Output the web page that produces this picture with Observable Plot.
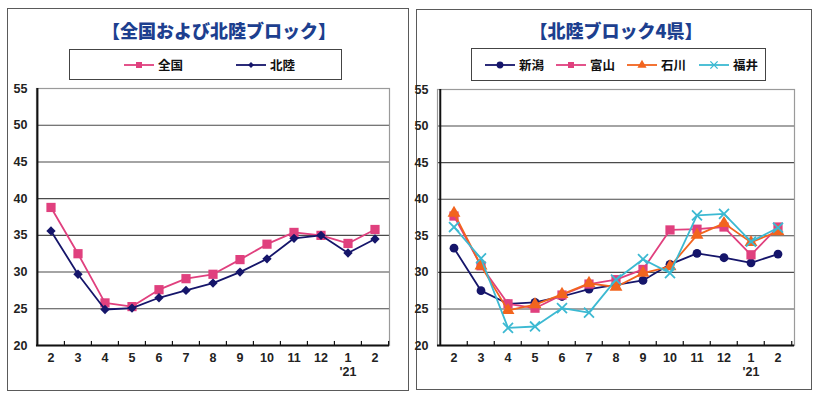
<!DOCTYPE html>
<html><head><meta charset="utf-8">
<script src="https://cdn.jsdelivr.net/npm/d3@7"></script>
<script src="https://cdn.jsdelivr.net/npm/@observablehq/plot@0.6"></script>
<style>
body{margin:0;background:#fff;}
#root{position:relative;width:820px;height:395px;overflow:hidden;background:#fff;}
.frame{position:absolute;border:1.5px solid #5a5a5a;box-sizing:border-box;}
.title{position:absolute;font-family:"Noto Sans CJK JP",sans-serif;font-weight:900;font-size:18px;color:#1d3f8f;white-space:nowrap;transform:translate(-50%,-50%);}
.legend{position:absolute;border:1.2px solid #444;box-sizing:border-box;background:#fff;}
.item{position:absolute;top:0;height:100%;display:flex;align-items:center;font-family:"Noto Sans CJK JP",sans-serif;font-weight:700;font-size:12.5px;color:#111;}
.plot{position:absolute;top:0;}
</style></head><body><div id="root"></div>
<script>
// ---- data ----
const periods = ["2020-02","2020-03","2020-04","2020-05","2020-06","2020-07","2020-08","2020-09","2020-10","2020-11","2020-12","2021-01","2021-02"];
const monthLabels = ["2","3","4","5","6","7","8","9","10","11","12","1","2"];
const yearLabel = "'21";
const yTicks = [20,25,30,35,40,45,50,55];
const titleLeft = "【全国および北陸ブロック】";
const titleRight = "【北陸ブロック4県】";
const zenkoku  = [38.8,32.5,25.8,25.3,27.6,29.1,29.7,31.7,33.8,35.4,35.0,33.9,35.8];
const hokuriku = [35.6,29.7,24.9,25.1,26.5,27.5,28.5,30.0,31.8,34.6,35.0,32.6,34.5];
const niigata  = [33.3,27.5,25.7,25.9,26.7,27.7,28.3,28.9,31.1,32.6,32.0,31.3,32.5];
const toyama   = [37.7,30.9,25.7,25.1,26.9,28.4,29.0,30.4,35.8,35.9,36.2,32.4,36.2];
const ishikawa = [38.1,30.9,24.8,25.6,27.0,28.5,28.0,29.9,30.8,35.1,36.7,34.1,35.6];
const fukui    = [36.2,31.9,22.4,22.6,25.1,24.5,29.0,31.8,29.9,37.8,38.0,34.2,36.1];

const leftSeries = [
  {name:"全国", values:zenkoku, color:"#e0407e", symbol:"square", r:5.2},
  {name:"北陸", values:hokuriku, color:"#15156a", symbol:"diamond2", r:4.2}
];
const rightSeries = [
  {name:"新潟", values:niigata, color:"#15156a", symbol:"circle", r:4.4},
  {name:"富山", values:toyama, color:"#e0407e", symbol:"square", r:5.2},
  {name:"石川", values:ishikawa, color:"#f2641e", symbol:"triangle", r:4.8},
  {name:"福井", values:fukui, color:"#3cb9d2", symbol:"times", r:4.6, stroked:true}
];

const root = document.getElementById("root");
function el(tag, cls, style, text){const e=document.createElement(tag); if(cls) e.className=cls; Object.assign(e.style, style||{}); if(text!=null) e.textContent=text; root.appendChild(e); return e;}

function makePlot(series, {left, width, marginLeft, marginRight, marginTop, marginBottom}) {
  const bw = (width - marginLeft - marginRight) / periods.length;
  const marks = [
    Plot.gridY(yTicks.filter(t => t > 20 && t < 55), {stroke:"#4a4a4a", strokeOpacity:1, strokeWidth:1.1}),
    Plot.frame({stroke:"#9a9a9a", strokeWidth:1.2}),
    Plot.ruleY([20], {stroke:"#111", strokeWidth:2}),
    Plot.ruleX([periods[0]], {dx:-bw/2, stroke:"#111", strokeWidth:2}),
    Plot.ruleX(periods.slice(1), {dx:-bw/2, y1:20, y2:20.55, stroke:"#111", strokeWidth:1.2}),
    Plot.ruleX([periods[periods.length-1]], {dx:bw/2, y1:20, y2:20.55, stroke:"#111", strokeWidth:1.2}),
    Plot.axisY(yTicks, {tickSize:0, tickPadding:9, label:null, fontWeight:"bold", fontSize:12.5, fill:"#222"}),
    Plot.axisX(periods, {tickSize:0, tickPadding:8, label:null, tickFormat:d => monthLabels[periods.indexOf(d)], fontWeight:"bold", fontSize:12.5, fill:"#222"}),
    Plot.text([yearLabel], {x:() => periods[11], text:d => d, frameAnchor:"bottom", dy:30, fontWeight:"bold", fontSize:12.5, fill:"#222"})
  ];
  for (const s of series) {
    const data = s.values.map((v, i) => ({key: periods[i], value: v}));
    marks.push(Plot.line(data, {x:"key", y:"value", stroke:s.color, strokeWidth:1.8}));
    marks.push(Plot.dot(data, s.stroked
      ? {x:"key", y:"value", symbol:s.symbol, r:s.r, stroke:s.color, strokeWidth:1.8}
      : {x:"key", y:"value", symbol:s.symbol, r:s.r, fill:s.color, stroke:"none"}));
  }
  const svg = Plot.plot({
    width, height:395, marginLeft, marginRight, marginTop, marginBottom,
    style:{background:"transparent", fontFamily:"'Liberation Sans', Arial, sans-serif"},
    x:{type:"band", domain:periods, padding:0, axis:null, label:null},
    y:{domain:[20,55], axis:null, label:null},
    marks
  });
  svg.classList.add("plot");
  svg.style.left = left + "px";
  root.appendChild(svg);
}

function makeLegend(series, box, items) {
  const lg = el("div", "legend", {left:box.left+"px", top:box.top+"px", width:box.width+"px", height:box.height+"px"});
  series.forEach((s, i) => {
    const it = document.createElement("div");
    it.className = "item";
    it.style.left = items[i] + "px";
    const ns = "http://www.w3.org/2000/svg";
    const sv = document.createElementNS(ns, "svg");
    sv.setAttribute("width", 30); sv.setAttribute("height", 12);
    sv.style.marginRight = "4px";
    const ln = document.createElementNS(ns, "line");
    ln.setAttribute("x1",0); ln.setAttribute("x2",30); ln.setAttribute("y1",6); ln.setAttribute("y2",6);
    ln.setAttribute("stroke", s.color); ln.setAttribute("stroke-width", 1.8);
    sv.appendChild(ln);
    const symMap = {square:d3.symbolSquare, diamond2:d3.symbolSquare2, circle:d3.symbolCircle, triangle:d3.symbolTriangle, times:d3.symbolTimes};
    const p = document.createElementNS(ns, "path");
    const size = s.symbol === "diamond2" ? 22 : 36;
    p.setAttribute("d", d3.symbol(symMap[s.symbol], size)());
    p.setAttribute("transform", "translate(15,6)" + (s.symbol === "diamond2" ? " rotate(45)" : ""));
    if (s.stroked) { p.setAttribute("fill","none"); p.setAttribute("stroke", s.color); p.setAttribute("stroke-width",1.4); }
    else p.setAttribute("fill", s.color);
    sv.appendChild(p);
    it.appendChild(sv);
    it.appendChild(document.createTextNode(s.name));
    lg.appendChild(it);
  });
}

// frames
el("div", "frame", {left:"7px", top:"8px", width:"402px", height:"383px"});
el("div", "frame", {left:"416px", top:"9px", width:"396px", height:"381px"});
// titles
el("div", "title", {left:"219px", top:"30px"}, titleLeft);
el("div", "title", {left:"616px", top:"30px"}, titleRight);
// legends
makeLegend(leftSeries, {left:69, top:49, width:273, height:31}, [54, 166]);
makeLegend(rightSeries, {left:471, top:48, width:295, height:33}, [13, 84, 155, 227]);
// plots
makePlot(leftSeries, {left:0, width:410, marginLeft:36, marginRight:21, marginTop:88, marginBottom:50});
makePlot(rightSeries, {left:408, width:412, marginLeft:29, marginRight:26, marginTop:89, marginBottom:50});
</script></body></html>
